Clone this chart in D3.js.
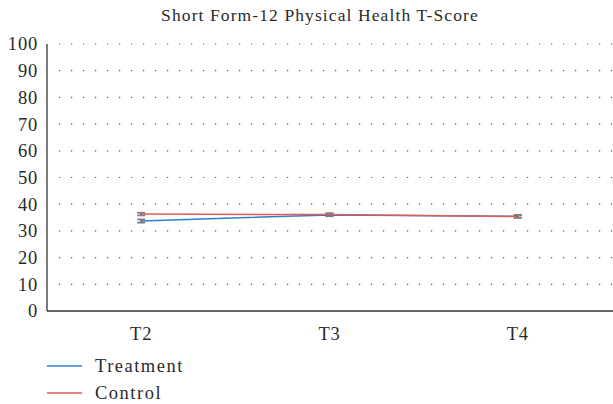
<!DOCTYPE html>
<html>
<head>
<meta charset="utf-8">
<script src="https://cdn.jsdelivr.net/npm/d3@7"></script>
<style>
  body { margin: 0; background: #fff; }
  text { font-family: "Liberation Serif", "DejaVu Serif", serif; fill: #2a2a2a; }
</style>
</head>
<body>
<script>
// data
var times = ["T2", "T3", "T4"];
var treatment = [33.7, 36.0, 35.5];
var control = [36.3, 36.1, 35.4];
var treatmentErr = [0.6, 0.5, 0.5];
var controlErr = [0.5, 0.5, 0.5];
var yTicks = [0, 10, 20, 30, 40, 50, 60, 70, 80, 90, 100];

var width = 613, height = 404;
var margin = {left: 47, right: 1, top: 44, bottom: 93};

var svg = d3.select("body").append("svg")
    .attr("width", width)
    .attr("height", height);

var x = d3.scalePoint()
    .domain(times)
    .range([margin.left, width - margin.right])
    .padding(0.5);

var y = d3.scaleLinear()
    .domain([0, 100])
    .range([height - margin.bottom, margin.top]);

// title
svg.append("text")
    .attr("x", 320)
    .attr("y", 21)
    .attr("text-anchor", "middle")
    .style("font-size", "17.5px")
    .style("letter-spacing", "1.1px")
    .text("Short Form-12 Physical Health T-Score");

// dotted grid
svg.selectAll(".grid")
    .data(yTicks.filter(function(d) { return d > 0; }))
    .enter().append("line")
    .attr("class", "grid")
    .attr("x1", margin.left + 12)
    .attr("x2", width)
    .attr("y1", function(d) { return y(d); })
    .attr("y2", function(d) { return y(d); })
    .attr("stroke", "#555")
    .attr("stroke-width", 1.2)
    .attr("stroke-dasharray", "1.2,10.8");

// y axis labels
svg.selectAll(".ylab")
    .data(yTicks)
    .enter().append("text")
    .attr("x", 38)
    .attr("y", function(d) { return y(d); })
    .attr("dy", "0.35em")
    .attr("text-anchor", "end")
    .style("font-size", "18.5px")
    .style("letter-spacing", "0.8px")
    .text(function(d) { return d; });

// axis lines
svg.append("line")
    .attr("x1", margin.left).attr("x2", margin.left)
    .attr("y1", y(100)).attr("y2", y(0))
    .attr("stroke", "#333").attr("stroke-width", 1.3);
svg.append("line")
    .attr("x1", margin.left).attr("x2", width)
    .attr("y1", y(0)).attr("y2", y(0))
    .attr("stroke", "#333").attr("stroke-width", 1.3);

// x labels
svg.selectAll(".xlab")
    .data(times)
    .enter().append("text")
    .attr("x", function(d) { return x(d); })
    .attr("y", y(0) + 29)
    .attr("text-anchor", "middle")
    .style("font-size", "18.5px")
    .style("letter-spacing", "0.8px")
    .text(function(d) { return d; });

var series = [
    {name: "Treatment", values: treatment, err: treatmentErr, color: "#2f7fc8"},
    {name: "Control", values: control, err: controlErr, color: "#e05a5a"}
];

var line = d3.line()
    .x(function(d, i) { return x(times[i]); })
    .y(function(d) { return y(d); });

// error bars
series.forEach(function(s) {
    var g = svg.append("g");
    s.values.forEach(function(v, i) {
        var cx = x(times[i]);
        var e = s.err[i];
        g.append("line")
            .attr("x1", cx).attr("x2", cx)
            .attr("y1", y(v - e)).attr("y2", y(v + e))
            .attr("stroke", "#808080").attr("stroke-width", 2);
        [v - e, v + e].forEach(function(c) {
            g.append("line")
                .attr("x1", cx - 4).attr("x2", cx + 4)
                .attr("y1", y(c)).attr("y2", y(c))
                .attr("stroke", "#808080").attr("stroke-width", 1.8);
        });
    });
});

// lines
series.forEach(function(s) {
    svg.append("path")
        .datum(s.values)
        .attr("fill", "none")
        .attr("stroke", s.color)
        .attr("stroke-width", 1.5)
        .attr("d", line);
});

// legend
var legend = svg.selectAll(".legend")
    .data(series)
    .enter().append("g")
    .attr("transform", function(d, i) { return "translate(47," + (366 + i * 27) + ")"; });

legend.append("line")
    .attr("x1", 0).attr("x2", 35)
    .attr("stroke", function(d) { return d.color; })
    .attr("stroke-width", 1.5);

legend.append("text")
    .attr("x", 48)
    .attr("dy", "0.35em")
    .style("font-size", "18.5px")
    .style("letter-spacing", "1.5px")
    .text(function(d) { return d.name; });
</script>
</body>
</html>
